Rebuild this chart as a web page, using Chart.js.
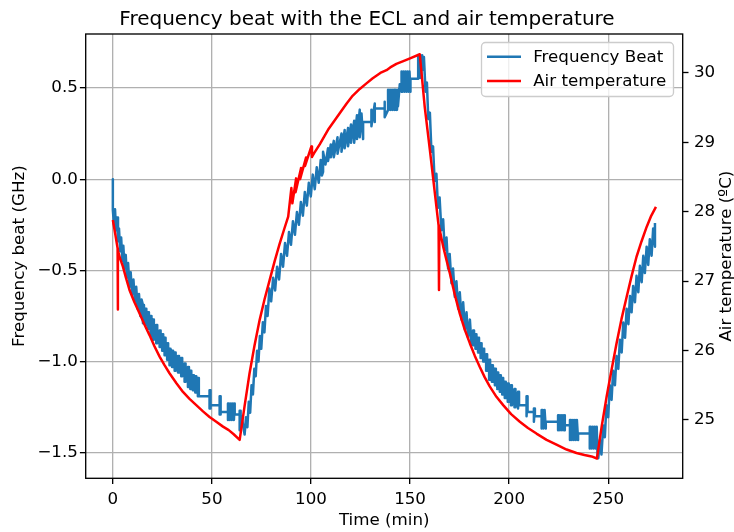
<!DOCTYPE html>
<html>
<head>
<meta charset="utf-8">
<script src="https://cdn.jsdelivr.net/npm/chart.js@4.4.1/dist/chart.umd.min.js"></script>
<style>
  body { margin: 0; background: #fff; }
  canvas { display: block; }
</style>
</head>
<body>
<canvas id="chart" width="734" height="532"></canvas>
<script>
// frequency beat (GHz) against time (min)
const beatTime = [
  0, 0, 0.6, 1.1, 1.6, 2.1, 2.6, 3.1,
  3.7, 4.2, 4.8, 5.3, 5.9, 6.5, 7.1, 7.7,
  8.4, 9.0, 9.7, 10.4, 11.1, 11.8, 12.5, 13.2,
  13.9, 14.5,
  15.2, 15.2, 15.7, 15.7, 16.4, 16.4, 16.9, 16.9, 17.7, 17.7, 18.2, 18.2, 19.0, 19.0, 19.5, 19.5,
  20.2, 20.2, 20.7, 20.7, 21.9, 21.9, 22.4, 22.4, 23.6, 23.6, 24.1, 24.1, 24.9, 24.9, 25.4, 25.4,
  26.1, 26.1, 26.6, 26.6, 27.4, 27.4, 27.9, 27.9, 28.6, 28.6, 29.1, 29.1, 29.9, 29.9, 30.4, 30.4,
  31.2, 31.2, 31.7, 31.7, 32.9, 32.9, 33.4, 33.4, 34.5, 34.5, 35.0, 35.0, 36.2, 36.2, 36.7, 36.7,
  37.9, 37.9, 38.4, 38.4, 39.1, 39.1, 39.6, 39.6, 40.4, 40.4, 40.9, 40.9, 41.6, 41.6, 42.1, 42.1,
  42.9, 42.9, 43.4, 43.4, 48.8, 48.8, 48.8, 49.3, 49.3, 49.3, 53.9,
  53.9, 53.9, 54.4, 54.4, 54.4, 58.1,
  58.1, 58.1, 58.6, 59.1, 59.6, 60.1, 60.6, 61.1, 61.5, 61.5, 64.0,
  64.0, 64.0, 64.5, 64.5, 65.0, 66.5,
  67.2, 67.9, 68.6, 69.3, 70.0, 70.7, 71.4, 72.1,
  72.8, 73.5, 74.2, 74.9, 75.7, 76.5, 77.3, 78.1,
  79.0, 79.9, 80.9, 81.9, 82.9, 83.9, 84.9, 85.9,
  86.9, 87.9, 88.9, 89.9, 90.9, 91.9, 92.9, 93.9,
  94.9, 95.9, 96.9, 97.9, 98.9, 99.9, 100.9, 101.9,
  102.9, 103.9, 104.9, 105.5, 106.1, 106.1, 107.3,
  108.6, 108.6, 110.0, 110.0, 111.5, 111.5, 113.4, 113.4,
  115.4, 115.4, 117.0, 117.0, 118.7, 118.7, 120.2, 120.2,
  121.8, 121.8, 123.2, 123.2, 124.6, 124.6, 125.5, 126.3,
  126.3, 130.5, 130.5, 130.5, 132.2, 132.2, 132.2, 137.2,
  137.2, 137.2, 138.9, 138.9, 139.4, 139.9, 140.4, 140.9, 141.4, 141.9, 142.4, 142.9, 143.4, 143.9, 143.9, 144.8,
  145.7, 145.7, 146.2, 146.7, 147.2, 147.7, 148.2, 148.7, 149.2, 149.7, 150.2, 150.2, 154.1,
  154.1, 154.6, 155.1, 155.6, 156.1, 156.6,
  157.0, 157.8, 158.5, 159.2, 160.0, 160.8, 161.6, 162.4,
  163.3, 164.1, 164.9, 165.8, 166.7, 167.5, 168.4, 169.2,
  170.0, 170.9, 171.7, 172.6, 173.4, 174.3, 175.1, 176.0,
  176.8, 177.7, 178.5, 179.3, 180.2, 181.0,
  181.8, 181.8, 182.3, 182.3, 183.0, 183.0, 183.5, 183.5, 184.3, 184.3, 184.8, 184.8, 185.6, 185.6, 186.1, 186.1,
  186.9, 186.9, 187.4, 187.4, 188.4, 188.4, 188.9, 188.9, 189.9, 189.9, 190.4, 190.4, 191.3, 191.3, 191.8, 191.8,
  192.8, 192.8, 193.3, 193.3, 194.0, 194.0, 194.5, 194.5, 195.3, 195.3, 195.8, 195.8, 196.5, 196.5, 197.0, 197.0,
  197.8, 197.8, 198.3, 198.3, 199.3, 199.3, 199.8, 199.8, 200.9, 200.9, 201.4, 201.4, 202.7, 202.7, 203.2, 203.2,
  204.5, 204.5, 205.0, 205.0, 208.8, 208.8, 208.8, 209.3, 209.3, 212.5,
  212.5, 212.5, 213.0, 213.0, 216.4,
  216.4, 216.4, 216.9, 217.4, 217.9, 218.5, 218.5, 224.7,
  224.7, 224.7, 225.2, 225.7, 226.2, 226.7, 227.2, 227.7, 228.1, 228.1, 230.7,
  230.7, 230.7, 231.2, 231.7, 232.2, 232.7, 233.2, 233.7, 234.2, 234.8, 234.8, 240.7,
  240.7, 240.7, 241.2, 241.7, 242.2, 242.7, 243.2, 243.7, 244.2, 244.6, 245.0,
  245.8, 246.6, 247.5, 248.3, 249.1, 250.0, 250.8, 251.7,
  252.5, 253.4, 254.2, 255.1, 255.9, 256.8, 257.6, 258.5,
  259.3, 260.2, 261.0, 261.8, 262.6, 263.5, 264.3, 265.2,
  266.0, 266.9, 267.7, 268.5, 269.4, 270.2, 271.0, 271.9,
  272.7, 273.6, 273.6
];
const beatGHz = [
  0, -0.17, -0.25, -0.165, -0.28, -0.21, -0.34, -0.27,
  -0.395, -0.32, -0.45, -0.365, -0.49, -0.415, -0.54, -0.46,
  -0.59, -0.51, -0.63, -0.55, -0.67, -0.59, -0.71, -0.63,
  -0.75, -0.66,
  -0.69, -0.79, -0.69, -0.79, -0.71, -0.80, -0.71, -0.80, -0.73, -0.82, -0.73, -0.82, -0.75, -0.86, -0.75, -0.86,
  -0.77, -0.88, -0.77, -0.88, -0.80, -0.90, -0.80, -0.90, -0.83, -0.92, -0.83, -0.92, -0.85, -0.94, -0.85, -0.94,
  -0.87, -0.965, -0.87, -0.965, -0.90, -0.99, -0.90, -0.99, -0.93, -1.02, -0.93, -1.02, -0.94, -1.03, -0.94, -1.03,
  -0.95, -1.05, -0.95, -1.05, -0.97, -1.06, -0.97, -1.06, -0.98, -1.08, -0.98, -1.08, -1.01, -1.11, -1.01, -1.11,
  -1.03, -1.14, -1.03, -1.14, -1.05, -1.15, -1.05, -1.15, -1.075, -1.157, -1.075, -1.157, -1.08, -1.17, -1.08, -1.17,
  -1.09, -1.19, -1.09, -1.19, -1.19, -1.157, -1.257, -1.157, -1.257, -1.24, -1.24,
  -1.19, -1.29, -1.19, -1.29, -1.276, -1.276,
  -1.23, -1.32, -1.23, -1.32, -1.23, -1.32, -1.23, -1.32, -1.23, -1.29, -1.29,
  -1.27, -1.376, -1.27, -1.376, -1.30, -1.40,
  -1.305, -1.36, -1.22, -1.28, -1.13, -1.18, -1.04, -1.08,
  -0.94, -1.00, -0.86, -0.93, -0.785, -0.84, -0.695, -0.75,
  -0.60, -0.67, -0.54, -0.61, -0.48, -0.55, -0.41, -0.48,
  -0.35, -0.42, -0.29, -0.36, -0.23, -0.305, -0.18, -0.25,
  -0.125, -0.20, -0.07, -0.145, -0.02, -0.095, 0.025, -0.055,
  0.065, -0.02, 0.105, 0.02, 0.04, 0.15, 0.08,
  0.17, 0.10, 0.19, 0.12, 0.21, 0.12, 0.23, 0.14,
  0.25, 0.15, 0.27, 0.17, 0.28, 0.18, 0.30, 0.20,
  0.32, 0.20, 0.35, 0.22, 0.38, 0.23, 0.36, 0.22,
  0.314, 0.314, 0.38, 0.29, 0.415, 0.314, 0.388, 0.388,
  0.424, 0.34, 0.38, 0.49, 0.38, 0.49, 0.38, 0.49, 0.38, 0.49, 0.38, 0.49, 0.38, 0.49, 0.40, 0.52,
  0.48, 0.59, 0.48, 0.59, 0.48, 0.59, 0.48, 0.59, 0.48, 0.59, 0.48, 0.55, 0.55,
  0.68, 0.555, 0.68, 0.555, 0.68, 0.60,
  0.67, 0.48, 0.53, 0.33, 0.365, 0.15, 0.18, -0.01,
  0.03, -0.157, -0.10, -0.28, -0.22, -0.39, -0.32, -0.49,
  -0.41, -0.57, -0.49, -0.645, -0.56, -0.71, -0.62, -0.77,
  -0.675, -0.825, -0.73, -0.87, -0.77, -0.91,
  -0.83, -0.91, -0.83, -0.91, -0.85, -0.93, -0.85, -0.93, -0.87, -0.95, -0.87, -0.95, -0.90, -0.98, -0.90, -0.98,
  -0.93, -1.00, -0.93, -1.00, -0.96, -1.05, -0.96, -1.05, -0.99, -1.10, -0.99, -1.10, -1.02, -1.11, -1.02, -1.11,
  -1.04, -1.13, -1.04, -1.13, -1.06, -1.15, -1.06, -1.15, -1.075, -1.166, -1.075, -1.166, -1.09, -1.18, -1.09, -1.18,
  -1.11, -1.20, -1.11, -1.20, -1.12, -1.22, -1.12, -1.22, -1.13, -1.24, -1.13, -1.24, -1.15, -1.25, -1.15, -1.25,
  -1.166, -1.257, -1.166, -1.24, -1.24, -1.19, -1.30, -1.19, -1.276, -1.276,
  -1.257, -1.33, -1.257, -1.30, -1.30,
  -1.266, -1.367, -1.266, -1.367, -1.266, -1.367, -1.33, -1.33,
  -1.294, -1.376, -1.294, -1.376, -1.294, -1.376, -1.294, -1.376, -1.294, -1.349, -1.349,
  -1.32, -1.43, -1.32, -1.43, -1.32, -1.43, -1.32, -1.43, -1.32, -1.43, -1.394, -1.394,
  -1.358, -1.476, -1.358, -1.476, -1.358, -1.476, -1.358, -1.476, -1.358, -1.50, -1.53,
  -1.43, -1.51, -1.35, -1.415, -1.24, -1.305, -1.13, -1.21,
  -1.05, -1.13, -0.97, -1.04, -0.88, -0.95, -0.786, -0.87,
  -0.71, -0.795, -0.64, -0.73, -0.585, -0.675, -0.53, -0.62,
  -0.475, -0.565, -0.42, -0.515, -0.37, -0.47, -0.33, -0.42,
  -0.27, -0.37, -0.24
];

// air temperature (ºC) against time (min)
const airTime = [
  0, 1.2, 2.4, 2.5, 2.6, 3.6, 5.05, 6.6,
  8.4, 10.8, 13.5, 16.0, 18.5, 21.0, 23.6, 26.0,
  28.6, 32.0, 35.4, 38.7, 42.1, 45.5, 48.8, 52.2,
  55.6, 58.5, 61.0, 64.0,
  66.5, 69.0, 71.5, 74.1, 76.6, 79.1, 81.6, 84.2,
  86.5, 88.5, 90.1, 90.6, 92.5, 92.2, 95.0, 94.5,
  97.5, 97.0, 100.2, 100.5, 101.5, 104.4, 108.6, 114.5,
  118.0, 121.0, 124.6, 128.0, 131.0, 135.0, 138.1, 140.0,
  143.1, 146.6, 150.0, 154.9,
  157.4, 160.0, 162.5, 164.4, 164.6, 164.8, 166.7, 168.4,
  170.1, 172.6, 175.1, 177.6, 180.2, 182.7, 185.2, 187.7,
  190.2, 193.6, 197.0, 201.0, 205.4, 209.5, 213.8, 218.9,
  223.9, 229.0, 234.0, 238.0, 241.6, 244.3,
  246.7, 249.2, 251.7, 254.2, 256.7, 259.3, 261.8, 264.3,
  266.8, 269.4, 271.7, 274.1
];
const airTemp = [
  27.88, 27.68, 27.47, 26.59, 27.44, 27.33, 27.21, 27.05,
  26.87, 26.70, 26.53, 26.37, 26.22, 26.06, 25.91, 25.79,
  25.67, 25.53, 25.40, 25.30, 25.21, 25.12, 25.04, 24.97,
  24.90, 24.85, 24.79, 24.71,
  25.20, 25.67, 26.07, 26.44, 26.74, 27.01, 27.28, 27.54,
  27.75, 27.93, 28.34, 28.12, 28.48, 28.28, 28.63, 28.47,
  28.78, 28.66, 28.94, 28.79, 28.84, 28.97, 29.18, 29.42,
  29.56, 29.67, 29.77, 29.85, 29.92, 30.00, 30.04, 30.08,
  30.13, 30.17, 30.21, 30.27,
  29.51, 28.89, 28.27, 27.80, 26.87, 27.76, 27.50, 27.30,
  27.11, 26.80, 26.53, 26.30, 26.10, 25.92, 25.76, 25.61,
  25.48, 25.33, 25.21, 25.08, 24.97, 24.88, 24.80, 24.71,
  24.64, 24.57, 24.52, 24.49, 24.47, 24.44,
  24.90, 25.33, 25.72, 26.10, 26.45, 26.77, 27.07, 27.35,
  27.57, 27.78, 27.94, 28.07
];

const timeTicks = [0, 50, 100, 150, 200, 250];
const beatTicks = [-1.5, -1.0, -0.5, 0.0, 0.5];
const tempTicks = [25, 26, 27, 28, 29, 30];

const FONT = "'DejaVu Sans', sans-serif";
const TEXT_SIZE = 16.7;
const TICK_LEN = 5.8;
const THIN = 1.33;

function toPoints(xs, ys) {
  return xs.map((x, i) => ({ x: x, y: ys[i] }));
}

function fixTicks(values) {
  return (scale) => {
    scale.ticks = values.map((v) => ({ value: v }));
  };
}

// spines, right hand label and legend, drawn the matplotlib way
const frame = {
  id: "frame",
  afterDatasetsDraw(chart) {
    const { ctx, chartArea: a } = chart;
    ctx.save();
    ctx.strokeStyle = "#000";
    ctx.lineWidth = THIN;
    ctx.strokeRect(a.left, a.top, a.right - a.left, a.bottom - a.top);
    ctx.restore();
  },
  afterDraw(chart) {
    const { ctx, chartArea: a } = chart;
    ctx.save();
    ctx.fillStyle = "#000";
    ctx.font = `${TEXT_SIZE}px ${FONT}`;
    ctx.translate(726.9, (a.top + a.bottom) / 2);
    ctx.rotate(-Math.PI / 2);
    ctx.textAlign = "center";
    ctx.textBaseline = "middle";
    ctx.fillText("Air temperature (ºC)", 0, 0);
    ctx.restore();

    // legend box
    ctx.save();
    ctx.beginPath();
    ctx.roundRect(481.5, 42.5, 192, 54, 4);
    ctx.fillStyle = "rgba(255,255,255,0.8)";
    ctx.fill();
    ctx.strokeStyle = "#cccccc";
    ctx.lineWidth = THIN;
    ctx.stroke();
    ctx.font = `${TEXT_SIZE}px ${FONT}`;
    ctx.textAlign = "left";
    ctx.textBaseline = "alphabetic";
    const rows = [56.7, 81];
    chart.data.datasets.forEach((ds, i) => {
      ctx.beginPath();
      ctx.moveTo(487, rows[i]);
      ctx.lineTo(521, rows[i]);
      ctx.strokeStyle = ds.borderColor;
      ctx.lineWidth = 2.5;
      ctx.stroke();
      ctx.fillStyle = "#000";
      ctx.fillText(ds.label, 533.2, rows[i] + 5);
    });
    ctx.restore();
  },
};

new Chart(document.getElementById("chart"), {
  type: "line",
  data: {
    datasets: [
      {
        label: "Frequency Beat",
        data: toPoints(beatTime, beatGHz),
        yAxisID: "y",
        borderColor: "#1f77b4",
        borderWidth: 2.5,
        borderJoinStyle: "round",
        pointRadius: 0,
        order: 1,
      },
      {
        label: "Air temperature",
        data: toPoints(airTime, airTemp),
        yAxisID: "y1",
        borderColor: "#ff0000",
        borderWidth: 2.5,
        borderJoinStyle: "round",
        pointRadius: 0,
        order: 0,
      },
    ],
  },
  options: {
    responsive: false,
    animation: false,
    layout: { padding: 0 },
    plugins: {
      legend: { display: false },
      tooltip: { enabled: false },
      title: {
        display: true,
        text: "Frequency beat with the ECL and air temperature",
        color: "#000",
        font: { family: FONT, size: 20, weight: "normal", lineHeight: 1.2 },
        padding: { top: 7.4, bottom: 2.6 },
      },
    },
    scales: {
      x: {
        type: "linear",
        min: -13.7,
        max: 287.6,
        afterBuildTicks: fixTicks(timeTicks),
        afterFit: (s) => { s.height = 53.7; },
        border: { display: false },
        grid: { color: "#b0b0b0", lineWidth: THIN, tickColor: "#000", tickLength: TICK_LEN, tickWidth: THIN },
        ticks: { color: "#000", padding: 5.5, maxRotation: 0, font: { family: FONT, size: TEXT_SIZE } },
        title: {
          display: true,
          text: "Time (min)",
          color: "#000",
          font: { family: FONT, size: TEXT_SIZE },
          padding: { top: 0, bottom: 1.3 },
        },
      },
      y: {
        position: "left",
        min: -1.64,
        max: 0.796,
        afterBuildTicks: fixTicks(beatTicks),
        afterFit: (s) => { s.width = 85.7; },
        border: { display: false },
        grid: { color: "#b0b0b0", lineWidth: THIN, tickColor: "#000", tickLength: TICK_LEN, tickWidth: THIN },
        ticks: {
          color: "#000",
          padding: 2,
          font: { family: FONT, size: TEXT_SIZE },
          callback: (v) => v.toFixed(1).replace("-", "\u2212"),
        },
        title: {
          display: true,
          text: "Frequency beat (GHz)",
          color: "#000",
          font: { family: FONT, size: TEXT_SIZE },
          padding: { top: 9.7, bottom: 0 },
        },
      },
      y1: {
        position: "right",
        min: 24.155,
        max: 30.562,
        afterBuildTicks: fixTicks(tempTicks),
        afterFit: (s) => { s.width = 51.3; },
        border: { display: false },
        grid: { drawOnChartArea: false, tickColor: "#000", tickLength: TICK_LEN, tickWidth: THIN },
        ticks: { color: "#000", padding: 5.5, font: { family: FONT, size: TEXT_SIZE } },
      },
    },
  },
  plugins: [frame],
});
</script>
</body>
</html>
